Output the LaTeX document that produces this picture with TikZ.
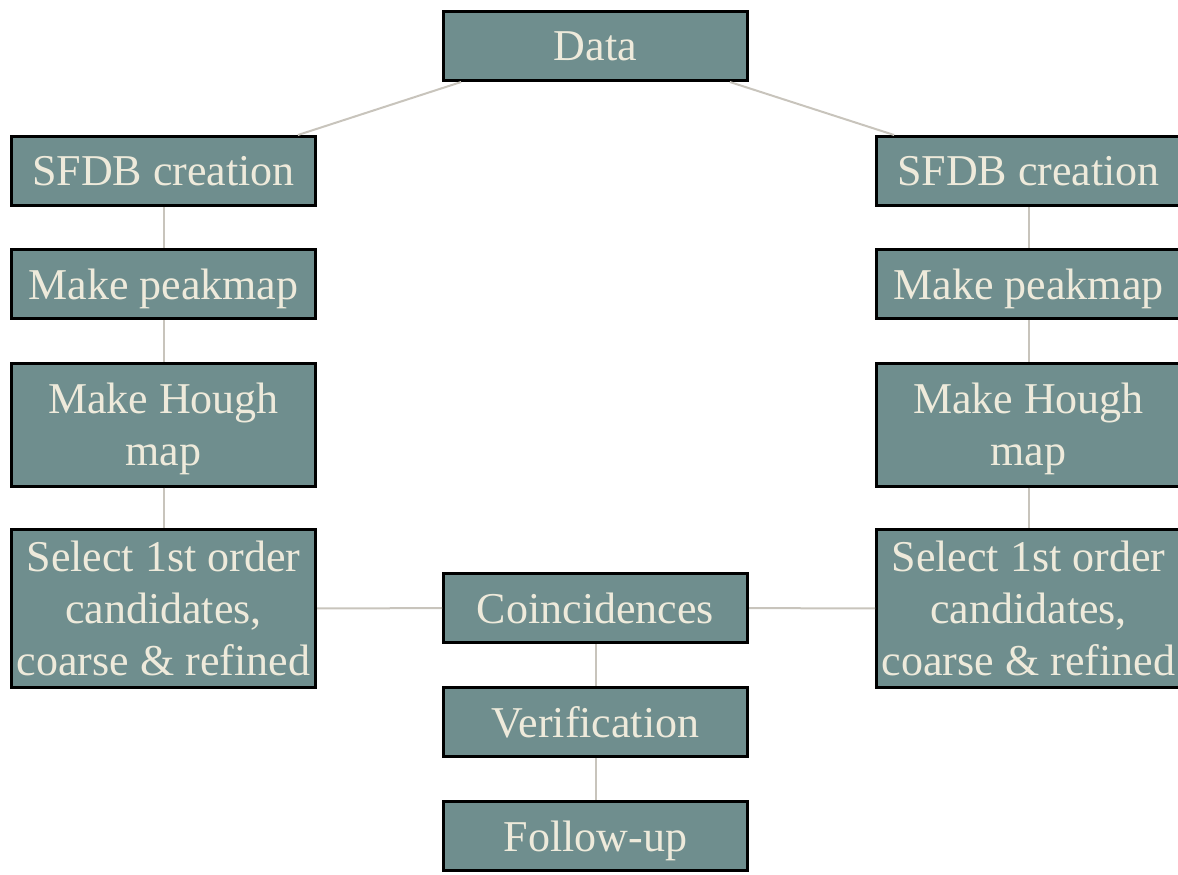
\documentclass[tikz,border=0pt]{standalone}
\usepackage{fontspec}
\setmainfont{Liberation Serif}
\usetikzlibrary{shadows}
\definecolor{boxfill}{RGB}{111,142,142}
\definecolor{boxtext}{RGB}{238,234,219}
\definecolor{linkgray}{RGB}{200,196,188}
\tikzstyle{stage}=[draw=black, line width=1.5pt, fill=boxfill, text=boxtext,
                   inner sep=0, outer sep=0.75pt, minimum width=152pt, minimum height=34.5pt,
                   align=center, text depth=0pt, font=\fontsize{22}{26}\selectfont,
                   % Soft shadow like the slide boxes.
                   drop shadow={shadow xshift=0.8pt, shadow yshift=-0.8pt, opacity=0.3}]
\tikzstyle{tallstage}=[stage, minimum height=61.5pt]
\tikzstyle{tallerstage}=[stage, minimum height=79pt]
\tikzstyle{link}=[draw=linkgray, line width=1pt]
\begin{document}
\begin{tikzpicture}[x=0.5pt, y=-0.5pt]
        \useasboundingbox (0,0) rectangle (1178,874);
        \node[stage]       (data)   at (595.5, 46)   {Data};
        % Left chain
        \node[stage]       (sfdbL)  at (163.5, 171)  {SFDB creation};
        \node[stage]       (peakL)  at (163.5, 284)  {Make peakmap};
        \node[tallstage]   (houghL) at (163.5, 424.5) {Make Hough\\map};
        \node[tallerstage] (selL)   at (163.5, 608.5) {Select 1st order\\candidates,\\coarse \& refined};
        % Right chain
        \node[stage]       (sfdbR)  at (1028.5, 171)  {SFDB creation};
        \node[stage]       (peakR)  at (1028.5, 284)  {Make peakmap};
        \node[tallstage]   (houghR) at (1028.5, 424.5) {Make Hough\\map};
        \node[tallerstage] (selR)   at (1028.5, 608.5) {Select 1st order\\candidates,\\coarse \& refined};
        % Middle column
        \node[stage]       (coinc)  at (595.5, 608)  {Coincidences};
        \node[stage]       (verif)  at (595.5, 722)  {Verification};
        \node[stage]       (follow) at (595.5, 836)  {Follow-up};
        \draw[link] (data.195) -- (sfdbL.15);
        \draw[link] (data.-15) -- (sfdbR.165);
        \foreach \a/\b in {sfdbL/peakL, peakL/houghL, houghL/selL,
                           sfdbR/peakR, peakR/houghR, houghR/selR,
                           selL/coinc, coinc/selR, coinc/verif, verif/follow}
            \draw[link] (\a) -- (\b);
    \end{tikzpicture}
\end{document}
